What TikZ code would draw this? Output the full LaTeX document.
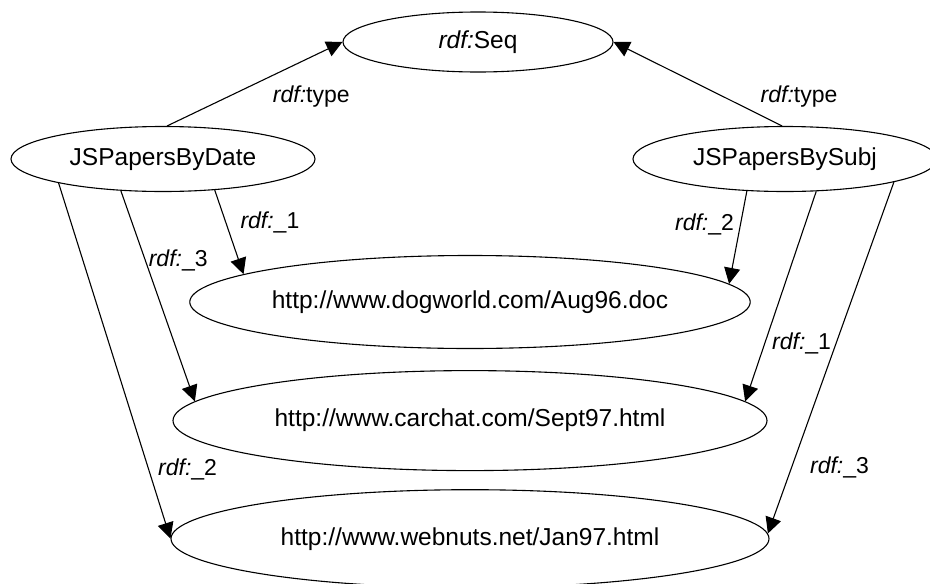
\documentclass[tikz,border=0pt]{standalone}
\usepackage{fontspec}
\setmainfont{Liberation Sans}
\usetikzlibrary{shapes.geometric, arrows.meta, positioning}

\begin{document}
\begin{tikzpicture}[x=1pt, y=-1pt,
    every node/.style={font=\fontsize{23}{27}\selectfont},
    oval/.style={ellipse, draw=black, line width=1.1pt, inner sep=0pt, font=\fontsize{24.5}{28}\selectfont},
    seqnode/.style={oval, minimum width=270pt, minimum height=60pt},
    bag/.style={oval, minimum width=304pt, minimum height=65pt},
    res/.style={oval, minimum width=560pt, minimum height=93pt},
    arrow/.style={line width=1.1pt, -{Triangle[length=16pt,width=16pt]}},
    lbl/.style={inner sep=0pt}
]

\useasboundingbox[fill=white] (0,0) rectangle (930,584);

% Nodes
\node[seqnode] (seq) at (478,42) {\textit{rdf:}Seq};
\node[bag] (bydate) at (163,159) {JSPapersByDate};
\node[bag] (bysubj) at (785,159) {JSPapersBySubj};

\node[res] (dog) at (470,302) {http://www.dogworld.com/Aug96.doc};
\node[res, minimum width=594pt, minimum height=100pt, below=21pt of dog] (car) {http://www.carchat.com/Sept97.html};
\node[res, minimum width=598pt, minimum height=98pt, below=18pt of car] (web) {http://www.webnuts.net/Jan97.html};

% Type arrows
\draw[arrow] (bydate.83) -- node[lbl, pos=0.35, anchor=west, xshift=44pt] {\textit{rdf:}type} (seq.west);
\draw[arrow] (bysubj.95) -- node[lbl, pos=0.35, anchor=west, xshift=37pt] {\textit{rdf:}type} (seq.east);

% Members of JSPapersByDate
\draw[arrow] (bydate.-31) -- node[lbl, pos=0.39, anchor=west, xshift=14pt] {\textit{rdf:}\_1} (dog.173.4);
\draw[arrow] (bydate.-143) -- node[lbl, pos=0.33, anchor=west, xshift=3pt] {\textit{rdf:}\_3} (car.176.3);
\draw[arrow] (bydate.-167.5) -- node[lbl, pos=0.805, anchor=west, xshift=9pt] {\textit{rdf:}\_2} (web.west);

% Members of JSPapersBySubj
\draw[arrow] (bysubj.-140) -- node[lbl, pos=0.36, anchor=east, xshift=-6pt] {\textit{rdf:}\_2} (dog.4.8);
\draw[arrow] (bysubj.-46) -- node[lbl, pos=0.726, anchor=west, xshift=7pt] {\textit{rdf:}\_1} (car.4.45);
\draw[arrow] (bysubj.-12) -- node[lbl, pos=0.812, anchor=west, xshift=18pt] {\textit{rdf:}\_3} (web.1);

\end{tikzpicture}
\end{document}
